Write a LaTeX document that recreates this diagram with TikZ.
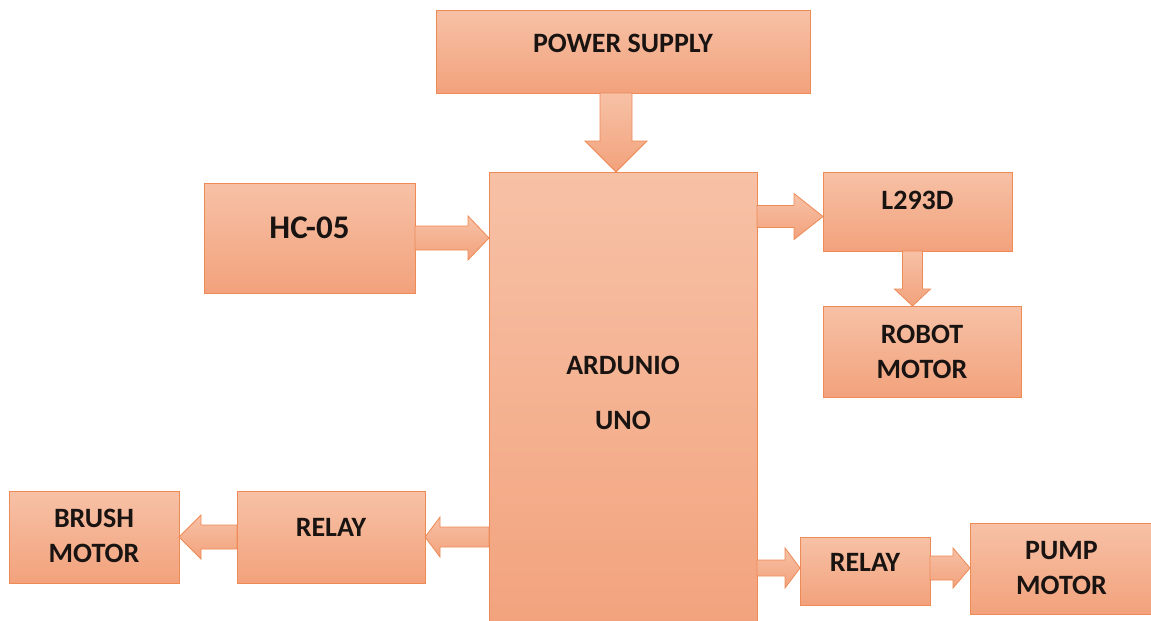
\documentclass[tikz,border=0pt]{standalone}
\usepackage{fontspec}
\setmainfont{Carlito}
\usetikzlibrary{calc}
\definecolor{boxtop}{RGB}{247,193,166}
\definecolor{boxbot}{RGB}{242,162,124}
\definecolor{boxline}{RGB}{238,138,86}
\definecolor{txt}{RGB}{25,20,18}
\tikzset{
  box/.style={draw=boxline, line width=1pt, top color=boxtop, bottom color=boxbot,
    inner sep=0pt, outer sep=0pt},
  lbl/.style={text=txt, font=\bfseries\fontsize{28}{35}\selectfont, align=center, inner sep=0pt},
  barrow/.style={draw=boxline, line width=0.8pt, top color=boxtop, bottom color=boxbot},
}
% #1 start, #2 end, #3 shaft half width, #4 head half width, #5 head length (pt)
\newcommand\blockarrow[5]{%
  \coordinate (ba-h) at ($(#2)!#5pt!(#1)$);
  \path[barrow] ($(#1)!#3pt!90:(#2)$) -- ($(ba-h)!#3pt!90:(#2)$) -- ($(ba-h)!#4pt!90:(#2)$)
    -- (#2) -- ($(ba-h)!#4pt!-90:(#2)$) -- ($(ba-h)!#3pt!-90:(#2)$) -- ($(#1)!#3pt!-90:(#2)$) -- cycle;
}
\begin{document}
\begin{tikzpicture}[x=1pt,y=-1pt]
\useasboundingbox (0,0) rectangle (1151,621);
\node[box, minimum width=374pt, minimum height=83pt,
  label={[lbl,name=psT,yshift=8pt]center:POWER SUPPLY}] (ps) at (623,51.5) {};
\node[box, minimum width=268pt, minimum height=468pt,
  label={[lbl,name=ardT,yshift=13.5pt]center:ARDUNIO\\[20pt]UNO}] (ard) at (623,406) {};
\node[box, minimum width=211pt, minimum height=110pt,
  label={[lbl,name=hcT,yshift=10pt,font=\bfseries\fontsize{33}{38}\selectfont]center:HC-05}] (hc) at (309.5,238) {};
\node[box, minimum width=189pt, minimum height=79pt,
  label={[lbl,name=lT,yshift=11pt]center:L293D}] (l293) at (917.5,211.5) {};
\node[box, minimum width=198pt, minimum height=91pt,
  label={[lbl,name=rmT]center:ROBOT\\MOTOR}] (robot) at (922,351.5) {};
\node[box, minimum width=170pt, minimum height=92pt,
  label={[lbl,name=bmT,yshift=1pt]center:BRUSH\\MOTOR}] (brush) at (94,537) {};
\node[box, minimum width=188pt, minimum height=92pt,
  label={[lbl,name=rlT,yshift=10pt]center:RELAY}] (relayL) at (331,537) {};
\node[box, minimum width=130pt, minimum height=68pt,
  label={[lbl,name=rrT,yshift=9pt]center:RELAY}] (relayR) at (865,571) {};
\node[box, minimum width=183pt, minimum height=91pt,
  label={[lbl,name=pmT]center:PUMP\\MOTOR}] (pump) at (1061.5,568.5) {};

\coordinate (pA) at ($(ps.south)+(-7,0)$);
\coordinate (pB) at (pA |- ard.north);
\blockarrow{pA}{pB}{16}{31}{31}
\coordinate (hA) at (hc.east);
\coordinate (hB) at (hc.east -| ard.west);
\blockarrow{hA}{hB}{12}{22}{21}
\coordinate (lA) at ($(ard.east |- l293.west)+(0,5)$);
\coordinate (lB) at ($(l293.west)+(0,5)$);
\blockarrow{lA}{lB}{11}{23}{29}
\coordinate (rA) at ($(l293.south)+(-5,0)$);
\coordinate (rB) at (rA |- robot.north);
\blockarrow{rA}{rB}{10}{18}{17}
\coordinate (aA) at (relayL.east -| ard.west);
\coordinate (aB) at (relayL.east);
\blockarrow{aA}{aB}{10}{20}{15}
\coordinate (bA) at (relayL.west);
\coordinate (bB) at (brush.east);
\blockarrow{bA}{bB}{12}{22}{22}
\coordinate (cA) at ($(ard.east |- relayR.west)+(0,-3)$);
\coordinate (cB) at ($(relayR.west)+(0,-3)$);
\blockarrow{cA}{cB}{8}{20}{15}
\coordinate (dA) at ($(relayR.east)+(0,-3)$);
\coordinate (dB) at (dA -| pump.west);
\blockarrow{dA}{dB}{12}{20}{17}
\end{tikzpicture}
\end{document}
